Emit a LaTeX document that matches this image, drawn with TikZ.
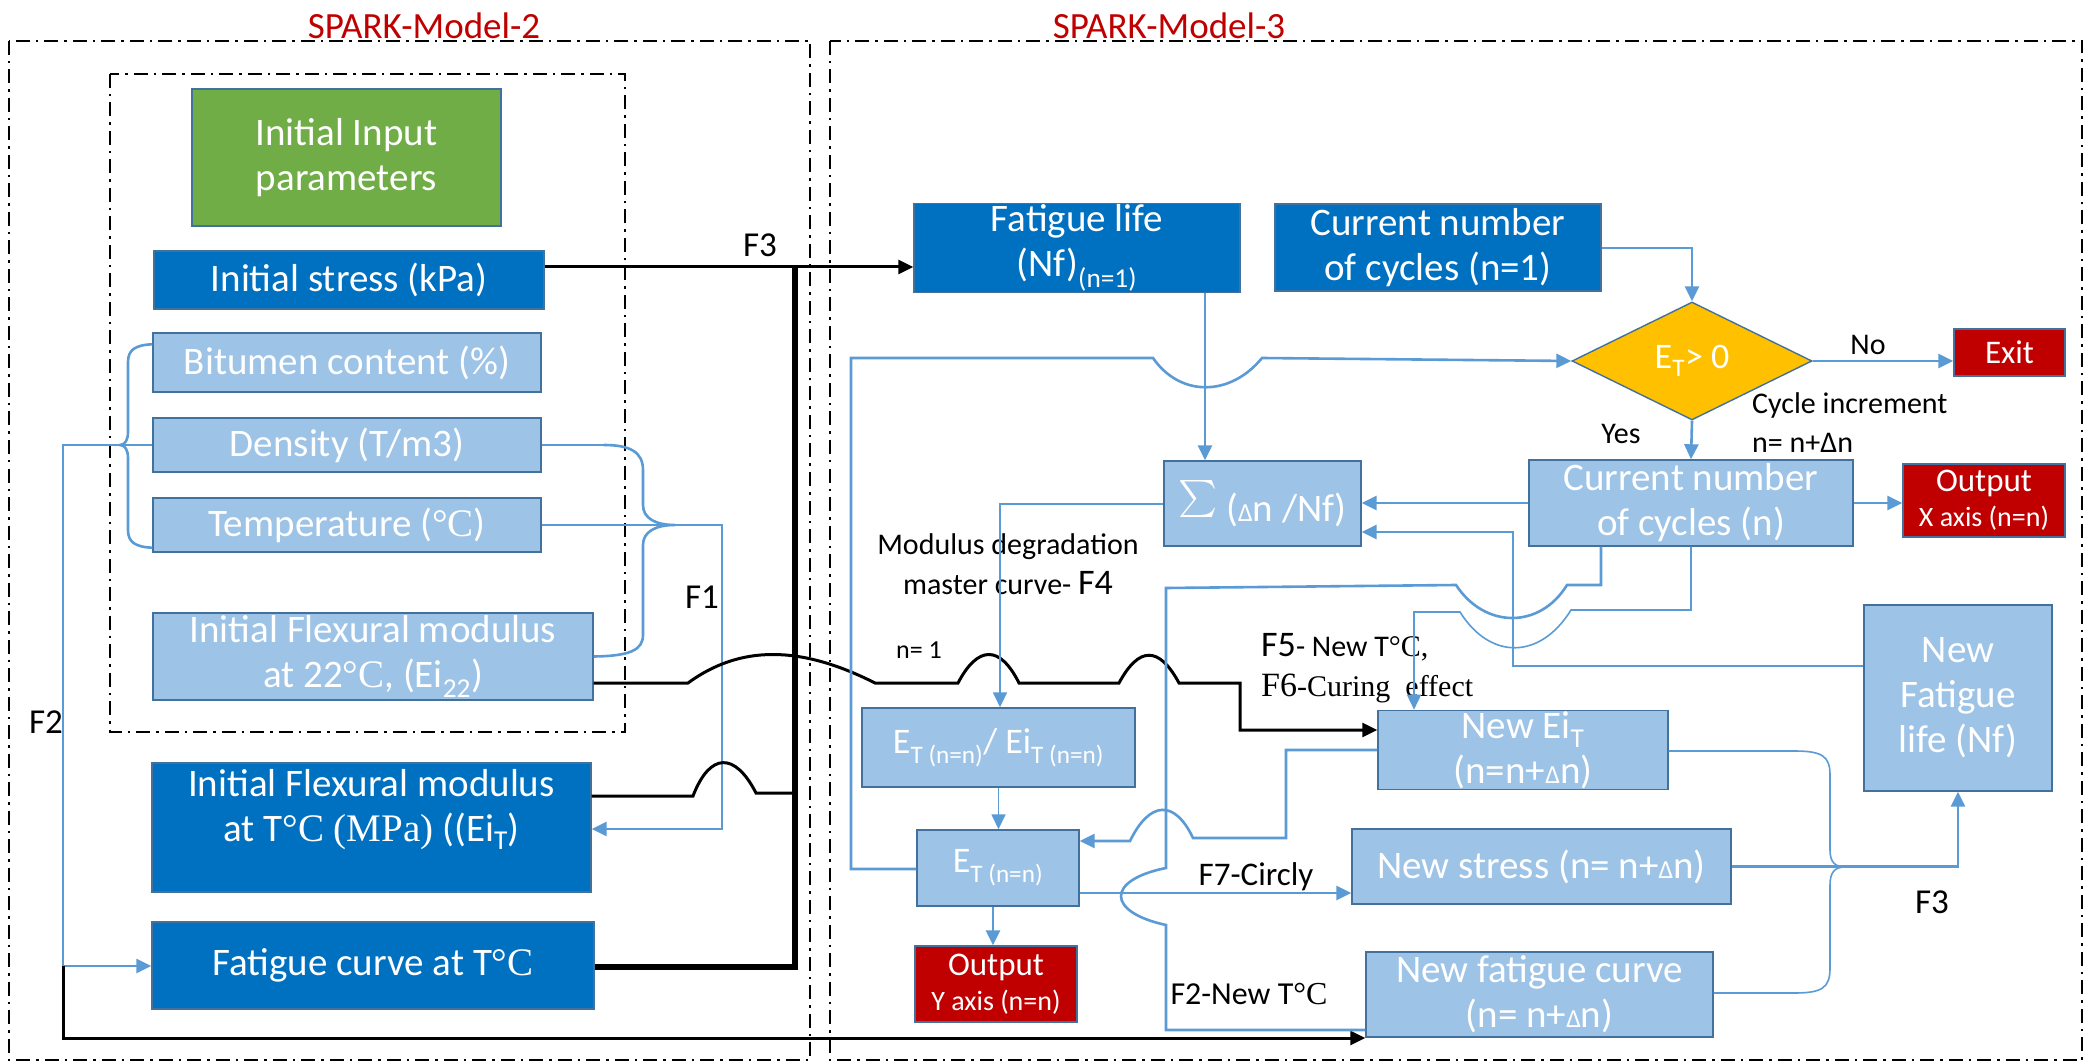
\documentclass[tikz,border=0pt]{standalone}
\usepackage{fontspec}
\usepackage{graphicx}
\setmainfont{Carlito}
\newfontfamily\tnr{Liberation Serif}
\usetikzlibrary{shapes.geometric,arrows.meta}

\definecolor{lnblue}{HTML}{5B9BD5}
\definecolor{boxedge}{HTML}{41719C}
\definecolor{lblue}{HTML}{9DC3E6}
\definecolor{dblue}{HTML}{0070C0}
\definecolor{dred}{HTML}{C00000}
\definecolor{dyellow}{HTML}{FFC000}
\definecolor{dgreen}{HTML}{70AD47}

\newcommand\fsBox{\fontsize{39}{45}\selectfont}
\newcommand\fsMid{\fontsize{36}{42}\selectfont}
\newcommand\fsOut{\fontsize{33}{35}\selectfont}
\newcommand\fsLbl{\fontsize{35}{40}\selectfont}
\newcommand\fsTxt{\fontsize{30}{40}\selectfont}
\newcommand\sD{{\fontsize{26}{26}\selectfont Δ}}
\newcommand\bigsum{\scalebox{3.7}{$\sum$}}

\begin{document}
\begin{tikzpicture}[x=1pt,y=-1pt,
  box/.style={draw=boxedge, line width=1.4pt, text=white, align=center, inner sep=1pt, font=\fsBox},
  lbox/.style={box, fill=lblue},
  dbox/.style={box, fill=dblue},
  rbox/.style={box, fill=dred},
  gbox/.style={box, fill=dgreen},
  wh/.style 2 args={minimum width=#1pt, minimum height=#2pt},
  dia/.style={diamond, draw=boxedge, fill=dyellow, line width=1.4pt, inner sep=0pt,
    minimum width=240pt, minimum height=118pt, text=white, font=\fsMid},
  lbl/.style={inner sep=0pt, text=black, font=\fsLbl},
  txt/.style={inner sep=0pt, text=black, font=\fsTxt},
  title/.style={inner sep=0pt, text=dred, font=\fontsize{37}{40}\selectfont},
  frame/.style={draw=black, line width=2pt, dash pattern=on 14pt off 6pt on 2.5pt off 6pt},
  bl/.style={draw=lnblue, line width=2.6pt},
  blthin/.style={draw=lnblue, line width=1.6pt},
  blk/.style={draw=black, line width=3pt},
  blkthick/.style={draw=black, line width=5.5pt},
  arr/.style={-{Triangle[length=15pt,width=14pt]}},
]
\fill[white] (0,0) rectangle (2089,1064);
\useasboundingbox (0,0) rectangle (2089,1064);

% model frames
\draw[frame] (9,41) rectangle (810,1060);
\draw[frame] (830,41) rectangle (2082,1060);
\draw[frame] (110,74) rectangle (625,732);
\node[title] (tm2) at (424,26) {SPARK-Model-2};
\node[title] (tm3) at (1169,26) {SPARK-Model-3};

% ---------- SPARK-Model-2 ----------
\node[gbox, wh={309}{137}] (inp) at (346.5,157.5) {Initial Input\\parameters};
\node[dbox, wh={390}{58}] (stress) at (349,280) {Initial stress (kPa)};
\node[lbox, wh={388}{59}] (bit) at (347,362.5) {Bitumen content (\%)};
\node[lbox, wh={388}{54}] (dens) at (347,445) {Density (T/m3)};
\node[lbox, wh={388}{54}] (temp) at (347,525) {Temperature ({\tnr °C})};
\node[lbox, wh={440}{87}] (ei22) at (373,656.5) {Initial Flexural modulus\\at 22{\tnr °C}, (Ei\textsubscript{22})};
\node[dbox, wh={439}{129}] (eit) at (371.5,827.5) {Initial Flexural modulus\\at T{\tnr °C (MPa)} ((Ei\textsubscript{T})\\\mbox{}};
\node[dbox, wh={442}{87}] (fcur) at (373,965.5) {Fatigue curve at T{\tnr °C}};

% ---------- SPARK-Model-3 ----------
\node[dbox, wh={326}{88}] (fl1) at (1077,248) {Fatigue life\\(Nf)\textsubscript{(n=1)}};
\node[dbox, wh={326}{87}] (cn1) at (1438,247.5) {Current number\\of cycles (n=1)};
\node[dia] (dec) at (1692,361) {E\textsubscript{T}> 0};
\node[rbox, wh={111}{47}, font=\fsOut] (exit) at (2009.5,352.5) {Exit};
\node[lbox, wh={324}{86}] (cn) at (1691,503) {Current number\\of cycles (n)};
\node[rbox, wh={162}{73}, font=\fsOut] (outx) at (1984,500.5) {Output\\{\fontsize{28}{35}\selectfont X axis (n=n)}};
\node[lbox, wh={197}{85}] (sum) at (1262.5,503.5) {\bigsum\ (\sD n /Nf)};
\node[lbox, wh={273}{79}, font=\fsMid] (ratio) at (998.5,747.5) {E\textsubscript{T (n=n)}/ Ei\textsubscript{T (n=n)}};
\node[lbox, wh={162}{76}, font=\fsMid] (et) at (998,868) {E\textsubscript{T (n=n)}};
\node[rbox, wh={162}{76}, font=\fsOut] (outy) at (996,984) {Output\\{\fontsize{28}{35}\selectfont Y axis (n=n)}};
\node[lbox, wh={290}{76}] (neweit) at (1523,750) {New Ei\textsubscript{T}\\(n=n+\sD n)};
\node[lbox, wh={379}{75}] (newst) at (1541.5,866.5) {New stress (n= n+\sD n)};
\node[lbox, wh={347}{85}] (newfc) at (1539.5,994.5) {New fatigue curve\\(n= n+\sD n)};
\node[lbox, wh={188}{186}] (newfl) at (1958,698) {New\\Fatigue\\life (Nf)};

% ---------- labels ----------
\node[lbl] (lf1) at (702,597) {F1};
\node[lbl] (lf2) at (46,722) {F2};
\node[lbl] (lf3a) at (760,245) {F3};
\node[lbl] (lf3b) at (1932,902) {F3};
\node[txt] (lno) at (1868,345) {No};
\node[txt] (lyes) at (1621,434) {Yes};
\node[txt, anchor=west] (linc) at (1752,406) {Cycle increment};
\node[txt, anchor=west] (linc2) at (1752,443) {n= n+Δn};
\node[txt, align=center] (lf4) at (1008,564) {Modulus degradation\\master curve- {\fontsize{36}{40}\selectfont F4}};
\node[txt, font=\fontsize{26}{30}\selectfont] (ln1) at (919,650) {n= 1};
\node[txt, anchor=west] (lf5) at (1261,647) {{\fontsize{36}{36}\selectfont F5}- New T{\tnr °C,}};
\node[txt, anchor=west, font=\tnr\fontsize{30}{36}\selectfont] (lf6) at (1261,688) {{\fontsize{34}{36}\selectfont F6}-Curing\ \ effect};
\node[txt, font=\fontsize{33}{36}\selectfont] (lf7) at (1256,877) {F7-Circly};
\node[txt, font=\fontsize{32}{36}\selectfont] (lf2n) at (1249,994) {F2-New T{\tnr °C}};

% ---------- blue connectors, Model-2 ----------
\draw[bl, arr] (temp.east) -- (722,525) -- (722,829) -- ([yshift=-1.5pt]eit.east);
\draw[blthin] (dens.east) -- (604,445);
\draw[bl] (604,445) .. controls (630,445) and (643,452) .. (643,470) -- (643,505)
  .. controls (643,518) and (655,525) .. (675,525)
  .. controls (655,525) and (643,532) .. (643,545) -- (643,635)
  .. controls (643,650) and (630,656) .. (ei22.east);
\draw[blthin] (dens.west) -- (120,445);
\draw[bl] ([yshift=-12pt]bit.north west) .. controls (135,345) and (128,350) .. (128,362) -- (128,432)
  .. controls (128,440) and (125,445) .. (120,445)
  .. controls (125,445) and (128,450) .. (128,458) -- (128,530)
  .. controls (128,542) and (135,547) .. ([yshift=5pt]temp.south west);
\coordinate (f2j) at (63,966);
\draw[bl] (120,445) -- (63,445) -- (f2j);
\draw[bl, arr] (f2j) -- (f2j -| fcur.west);

% ---------- black connectors ----------
\draw[blk, arr] ([yshift=13pt]stress.east) -- ([yshift=-19pt]fl1.west);
\draw[blkthick] ([yshift=-1.5pt]fcur.east) -- (795,967) -- (795,265);
\draw[blk] ([yshift=31.5pt]eit.east) -- (693,796) .. controls (710,752) and (735,752) .. (756,793) -- (795,793);
\draw[blk, arr] ([yshift=-26.5pt]ei22.east) -- (688,683) .. controls (740,645) and (800,645) .. (875,683)
  -- (958,683) .. controls (978,645) and (1000,645) .. (1019,683)
  -- (1119,683) .. controls (1139,646) and (1159,646) .. (1179,683)
  -- (1240,683) -- (1240,730) -- ([yshift=20pt]neweit.west);
\draw[blk, arr] (f2j) -- (63,1038) -- ([yshift=-43.5pt]newfc.west);

% ---------- blue connectors, Model-3 ----------
\draw[bl, arr] ([yshift=-1pt]et.west) -- (851,869) -- (851,358) -- (1153,358)
  .. controls (1180,397) and (1230,397) .. (1262,358) -- (dec.west);
\draw[bl, arr] ([xshift=128pt]fl1.south) -- ([xshift=128pt]fl1.south |- sum.north);
\draw[bl, arr] ([yshift=-0.5pt]cn1.east) -- (1692,248) -- (dec.north);
\draw[bl, arr] (dec.east) -- (dec.east -| exit.west);
\draw[bl, arr] (dec.south) -- (cn.north);
\draw[bl, arr] (cn.east) -- (cn.east -| outx.west);
\draw[bl, arr] (cn.west) -- (cn.west -| sum.east);
\draw[bl, arr] ([yshift=32pt]newfl.west) -- (1513,666) -- (1513,532) -- ([yshift=-28.5pt]sum.east);
\draw[bl] ([xshift=-90pt]cn.south) -- (1601,585) -- (1567,585)
  .. controls (1540,629) and (1485,629) .. (1456,585) -- (1166,588) -- (1166,868)
  .. controls (1106,880) and (1106,912) .. (1166,925) -- (1166,1030) -- ([yshift=-35.5pt]newfc.west);
\draw[blthin, arr] (cn.south) -- (1691,610) -- (1571,610)
  .. controls (1540,660) and (1490,660) .. (1460,612) -- (1414,612) -- ([xshift=-109pt]neweit.north);
\draw[blthin, arr] ([yshift=-0.5pt]sum.west) -- (1000,504) -- ([xshift=1.5pt]ratio.north);
\draw[blthin, arr] (ratio.south) -- (ratio.south |- et.north);
\draw[bl, arr] ([xshift=-5pt]et.south) -- ([xshift=-5pt]et.south |- outy.north);
\draw[bl, arr] (neweit.west) -- (1286,750) -- (1286,838) -- (1193,838)
  .. controls (1175,800) and (1150,800) .. (1130,841) -- ([yshift=27pt]et.east);
\draw[bl, arr] ([yshift=-25pt]et.east) -- ([yshift=-25pt]et.east -| newst.west);
\draw[blthin] ([yshift=-1pt]neweit.east) -- (1794,751) .. controls (1822,751) and (1830,756) .. (1830,775)
  -- (1830,850) .. controls (1830,862) and (1835,867) .. (1845,867);
\draw[blthin] ([yshift=1.5pt]newfc.east) -- (1794,993) .. controls (1822,993) and (1830,988) .. (1830,968)
  -- (1830,885) .. controls (1830,872) and (1835,867) .. (1845,867);
\draw[bl, arr] (newst.east) -| (newfl.south);
\end{tikzpicture}
\end{document}
